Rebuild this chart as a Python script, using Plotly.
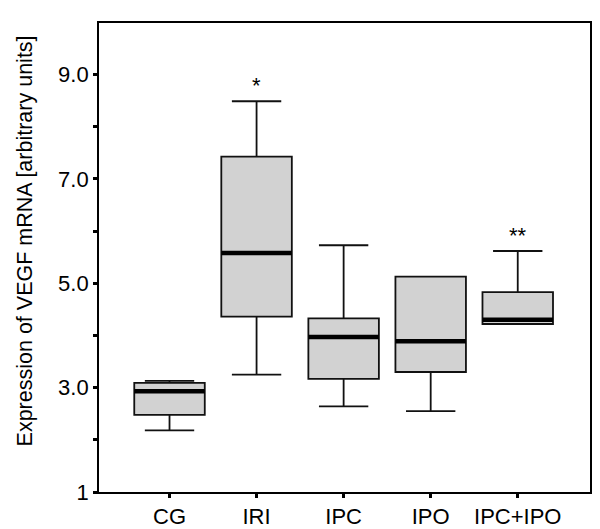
import plotly.graph_objects as go

categories = ["CG", "IRI", "IPC", "IPO", "IPC+IPO"]
lower_whisker = [2.18, 3.25, 2.64, 2.55, 4.22]
q1_values = [2.48, 4.36, 3.17, 3.30, 4.22]
median_values = [2.93, 5.58, 3.97, 3.89, 4.30]
q3_values = [3.09, 7.43, 4.33, 5.13, 4.83]
upper_whisker = [3.13, 8.49, 5.73, 5.13, 5.62]
significance = ["", "*", "", "", "**"]

y_tickvals = [1, 2, 3, 4, 5, 6, 7, 8, 9]
y_ticktext = ["1", "", "3.0", "", "5.0", "", "7.0", "", "9.0"]
y_title = "Expression of VEGF mRNA [arbitrary units]"

box_width = 0.81
font_family = "Liberation Sans, Arial, sans-serif"

fig = go.Figure()
fig.add_trace(go.Box(
    x=categories,
    q1=q1_values,
    median=median_values,
    q3=q3_values,
    lowerfence=lower_whisker,
    upperfence=upper_whisker,
    width=box_width,
    whiskerwidth=0.7,
    fillcolor="#d2d2d2",
    line=dict(color="#111111", width=1.8),
    boxpoints=False,
    hoverinfo="skip",
    showlegend=False,
))

# thick median bars
for i, m in enumerate(median_values):
    fig.add_trace(go.Scatter(
        x=[i - box_width / 2, i + box_width / 2],
        y=[m, m],
        mode="lines",
        line=dict(color="black", width=4.5),
        xaxis="x2",
        showlegend=False,
        hoverinfo="skip",
    ))

for cat, top, sig in zip(categories, upper_whisker, significance):
    if sig:
        fig.add_annotation(
            x=cat, y=top, text=sig, showarrow=False,
            yanchor="bottom", yshift=1,
            font=dict(family=font_family, size=22, color="black"),
        )

fig.add_annotation(
    xref="paper", yref="paper", x=-0.15, y=0.535,
    text=y_title, textangle=-90, showarrow=False,
    xanchor="center", yanchor="middle",
    font=dict(family=font_family, size=21.5, color="black"),
)

xrange = [-0.81, 4.83]
fig.update_layout(
    width=600, height=529,
    margin=dict(l=91, r=18, t=15, b=45),
    paper_bgcolor="white",
    plot_bgcolor="white",
    font=dict(family=font_family, size=22, color="black"),
    xaxis=dict(
        type="category",
        range=xrange,
        automargin=False,
        showgrid=False, zeroline=False,
        showline=True, linecolor="black", linewidth=1.8, mirror=True,
        ticks="outside", ticklen=4, tickwidth=3, tickcolor="black",
        tickfont=dict(size=22),
    ),
    xaxis2=dict(
        overlaying="x", range=xrange, visible=False,
    ),
    yaxis=dict(
        range=[1, 9.99],
        automargin=False,
        tickvals=y_tickvals, ticktext=y_ticktext,
        showgrid=False, zeroline=False,
        showline=True, linecolor="black", linewidth=1.8, mirror=True,
        ticks="outside", ticklen=4, tickwidth=3, tickcolor="black",
        tickfont=dict(size=22),
    ),
)

fig.write_html("out.html")
